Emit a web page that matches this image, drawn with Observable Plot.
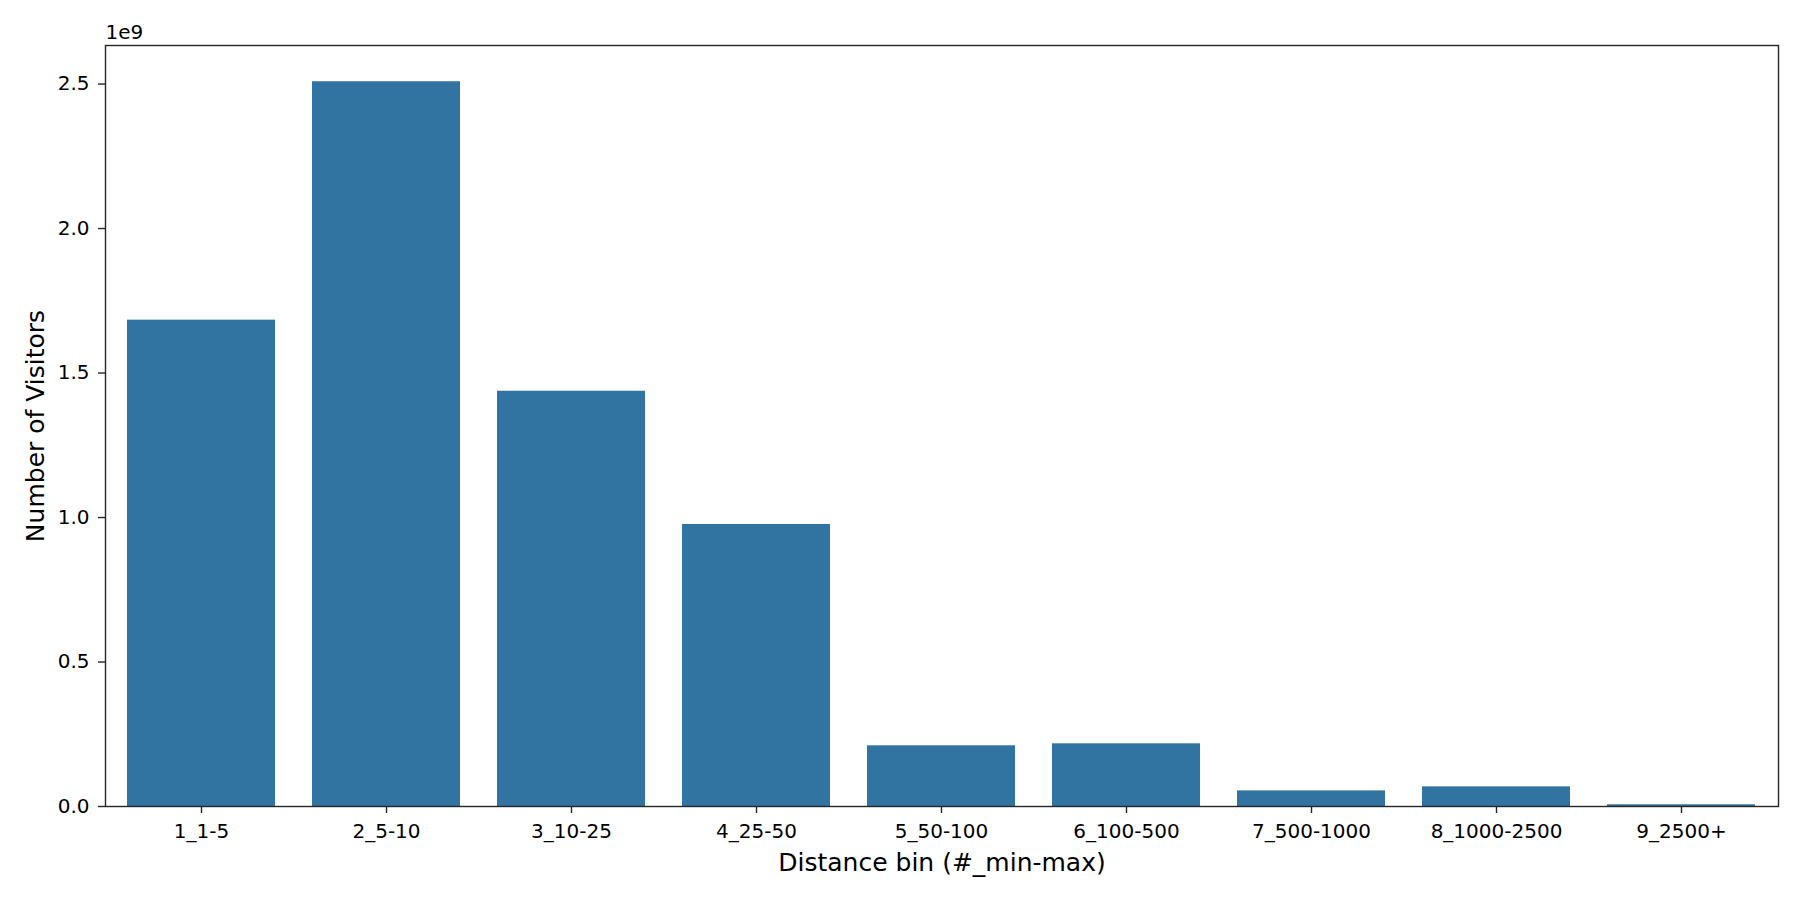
<!DOCTYPE html>
<html>
<head>
<meta charset="utf-8">
<script src="https://cdn.jsdelivr.net/npm/d3@7"></script>
<script src="https://cdn.jsdelivr.net/npm/@observablehq/plot@0.6"></script>
<style>
  html, body { margin: 0; padding: 0; background: #fff; }
  #chart { width: 1800px; height: 900px; }
</style>
</head>
<body>
<div id="chart"></div>
<script>
const categories = ["1_1-5", "2_5-10", "3_10-25", "4_25-50", "5_50-100", "6_100-500", "7_500-1000", "8_1000-2500", "9_2500+"];
const visitors = [1.683e9, 2.508e9, 1.437e9, 0.976e9, 0.210e9, 0.217e9, 0.054e9, 0.068e9, 0.006e9];
const yTicks = [0, 0.5e9, 1.0e9, 1.5e9, 2.0e9, 2.5e9];
const xLabel = "Distance bin (#_min-max)";
const yLabel = "Number of Visitors";
const offsetLabel = "1e9";

const data = categories.map((c, i) => ({bin: c, value: visitors[i]}));
const ink = "#262626";

const chart = Plot.plot({
  width: 1800,
  height: 900,
  marginLeft: 105,
  marginRight: 22,
  marginTop: 45,
  marginBottom: 94,
  style: {fontFamily: "DejaVu Sans", fontSize: "20px", color: "#000", background: "#fff"},
  x: {domain: categories, paddingInner: 0.2, paddingOuter: 0.1, label: null},
  y: {domain: [0, d3.max(visitors) * 1.05], label: null},
  marks: [
    Plot.barY(data, {x: "bin", y: "value", fill: "#3274a1"}),
    Plot.axisX({tickSize: 7, tickPadding: 10, stroke: ink, strokeWidth: 1.4, label: null}),
    Plot.axisY({ticks: yTicks, tickFormat: d => (d / 1e9).toFixed(1), tickSize: 7, tickPadding: 9, stroke: ink, strokeWidth: 1.4, label: null}),
    Plot.frame({stroke: ink, strokeWidth: 1.4}),
    Plot.text([xLabel], {frameAnchor: "bottom", dy: 64, lineAnchor: "bottom", textAnchor: "middle", fontSize: 25, fill: "#000"}),
    Plot.text([yLabel], {frameAnchor: "left", dx: -62, rotate: -90, lineAnchor: "bottom", textAnchor: "middle", fontSize: 25, fill: "#000"}),
    Plot.text([offsetLabel], {frameAnchor: "top-left", dy: -7, lineAnchor: "bottom", textAnchor: "start", fontSize: 20, fill: "#000"})
  ]
});
document.getElementById("chart").appendChild(chart);
</script>
</body>
</html>
